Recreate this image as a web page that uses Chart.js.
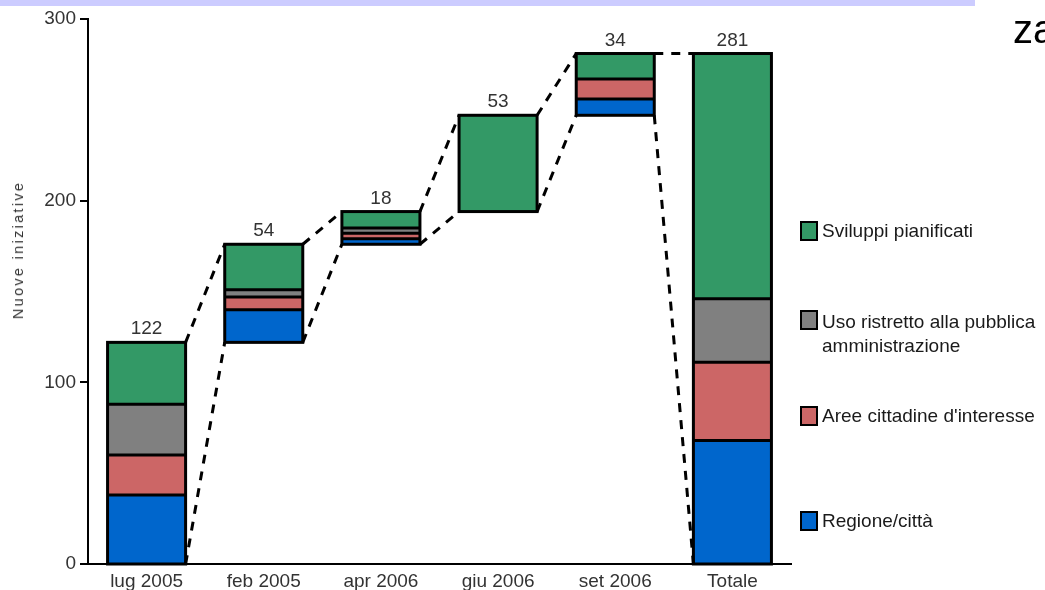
<!DOCTYPE html>
<html><head><meta charset="utf-8">
<script src="https://cdn.jsdelivr.net/npm/chart.js@4.4.0/dist/chart.umd.min.js"></script>
<style>
html,body{margin:0;padding:0;background:#fff;overflow:hidden;}
#wrap{position:relative;width:1045px;height:590px;overflow:hidden;font-family:"Liberation Sans",Arial,sans-serif;}
#c{position:absolute;left:0;top:0;}
#band{position:absolute;left:0;top:0;width:975px;height:6px;background:#ccccff;}
#za{position:absolute;left:1013px;top:5px;font-size:40px;line-height:48px;color:#000;white-space:nowrap;}
#ytitle{position:absolute;left:18px;top:250px;transform:translate(-50%,-50%) rotate(-90deg);font-size:14.5px;letter-spacing:2.3px;color:#333;white-space:nowrap;}
.leg{position:absolute;left:800px;font-size:19px;color:#1a1a1a;}
.sw{position:absolute;left:0;top:0;width:14px;height:16px;border:2px solid #000;}
.lt{position:absolute;left:22px;line-height:24px;white-space:nowrap;}
</style></head>
<body>
<div id="wrap">
<canvas id="c" width="1045" height="590"></canvas>
<div id="band"></div>
<div id="za">za</div>
<div id="ytitle">Nuove iniziative</div>
<div id="legend"></div>
</div>
<script>
const categories = ['lug 2005','feb 2005','apr 2006','giu 2006','set 2006','Totale'];
const regione  = [38, 18, 3,  0,  9,  68];
const aree     = [22,  7, 3,  0, 11,  43];
const uso      = [28,  4, 3,  0,  0,  35];
const sviluppi = [34, 25, 9, 53, 14, 135];
const totals   = [122, 54, 18, 53, 34, 281];
const yTicks   = [0, 100, 200, 300];
const seriesNames = ['Regione/città', "Aree cittadine d'interesse", 'Uso ristretto alla pubblica amministrazione', 'Sviluppi pianificati'];
const seriesColors = ['#0066cc', '#cc6666', '#808080', '#339966'];
const stackOrder = [regione, aree, uso, sviluppi];

// waterfall offsets (running total before each step; the last bar is the total)
const base = totals.map((t, i) => i === categories.length - 1 ? 0 : totals.slice(0, i).reduce((a, b) => a + b, 0));

// HTML legend
const legendItems = [
  {i: 3, top: 221, lines: ['Sviluppi pianificati']},
  {i: 2, top: 310, lines: ['Uso ristretto alla pubblica', 'amministrazione']},
  {i: 1, top: 406, lines: ["Aree cittadine d'interesse"]},
  {i: 0, top: 511, lines: ['Regione/città']}
];
const legEl = document.getElementById('legend');
legendItems.forEach(it => {
  const d = document.createElement('div');
  d.className = 'leg';
  d.style.top = it.top + 'px';
  const sw = document.createElement('div');
  sw.className = 'sw';
  sw.style.background = seriesColors[it.i];
  d.appendChild(sw);
  const t = document.createElement('div');
  t.className = 'lt';
  t.style.top = (it.lines.length > 1 ? 0 : -2) + 'px';
  t.innerHTML = it.lines.join('<br>');
  d.appendChild(t);
  legEl.appendChild(d);
});

Chart.defaults.font.family = "'Liberation Sans', Arial, sans-serif";

const waterfallPlugin = {
  id: 'waterfall',
  afterDatasetsDraw(chart) {
    const ctx = chart.ctx;
    const y = chart.scales.y;
    const meta = chart.getDatasetMeta(1);
    const boxes = categories.map((c, i) => {
      const el = meta.data[i];
      const w = el.width;
      return {
        l: el.x - w / 2, r: el.x + w / 2, x: el.x,
        t: y.getPixelForValue(base[i] + totals[i]),
        b: y.getPixelForValue(base[i])
      };
    });
    ctx.save();
    // connectors
    ctx.strokeStyle = '#000';
    ctx.lineWidth = 3;
    ctx.setLineDash([9, 8]);
    for (let i = 0; i < boxes.length - 1; i++) {
      const a = boxes[i], b = boxes[i + 1];
      ctx.beginPath();
      ctx.moveTo(a.r, a.t); ctx.lineTo(b.l, b.t);
      ctx.moveTo(a.r, a.b); ctx.lineTo(b.l, b.b);
      ctx.stroke();
    }
    ctx.setLineDash([]);
    // segment separators
    ctx.lineWidth = 3;
    boxes.forEach((bx, i) => {
      let cum = base[i];
      stackOrder.slice(0, -1).forEach(arr => {
        if (!arr[i]) return;
        cum += arr[i];
        const py = y.getPixelForValue(cum);
        ctx.beginPath();
        ctx.moveTo(bx.l, py); ctx.lineTo(bx.r, py);
        ctx.stroke();
      });
    });
    // outlines
    boxes.forEach(bx => {
      ctx.strokeRect(bx.l, bx.t, bx.r - bx.l, bx.b - bx.t);
    });
    // value labels
    ctx.fillStyle = '#333';
    ctx.font = "19px 'Liberation Sans', Arial, sans-serif";
    ctx.textAlign = 'center';
    ctx.textBaseline = 'alphabetic';
    boxes.forEach((bx, i) => {
      ctx.fillText(String(totals[i]), bx.x, bx.t - 8);
    });
    ctx.restore();
  }
};

const segStyle = {borderWidth: 0, stack: 's'};

new Chart(document.getElementById('c'), {
  type: 'bar',
  data: {
    labels: categories,
    datasets: [
      {label: 'base', data: base, backgroundColor: 'rgba(0,0,0,0)', borderWidth: 0, stack: 's'},
      Object.assign({label: seriesNames[0], data: regione, backgroundColor: seriesColors[0]}, segStyle),
      Object.assign({label: seriesNames[1], data: aree, backgroundColor: seriesColors[1]}, segStyle),
      Object.assign({label: seriesNames[2], data: uso, backgroundColor: seriesColors[2]}, segStyle),
      Object.assign({label: seriesNames[3], data: sviluppi, backgroundColor: seriesColors[3]}, segStyle)
    ]
  },
  options: {
    responsive: false,
    animation: false,
    layout: {padding: {left: 0, right: 254, top: 19, bottom: 0}},
    datasets: {bar: {categoryPercentage: 1, barPercentage: 0.666}},
    plugins: {legend: {display: false}, tooltip: {enabled: false}},
    scales: {
      x: {
        stacked: true,
        grid: {display: false},
        border: {display: true, color: '#000', width: 2},
        ticks: {color: '#333', font: {size: 19, lineHeight: 1}, padding: 0, maxRotation: 0},
        afterFit(s) { s.height = 26; }
      },
      y: {
        stacked: true,
        min: yTicks[0], max: yTicks[yTicks.length - 1],
        afterBuildTicks(s) { s.ticks = yTicks.map(v => ({value: v})); },
        ticks: {color: '#333', font: {size: 19}, padding: 4},
        grid: {drawOnChartArea: false, drawTicks: true, tickLength: 8, color: '#000', lineWidth: 2},
        border: {display: true, color: '#000', width: 2},
        afterFit(s) { s.width = 88; }
      }
    }
  },
  plugins: [waterfallPlugin]
});
</script>
</body></html>
